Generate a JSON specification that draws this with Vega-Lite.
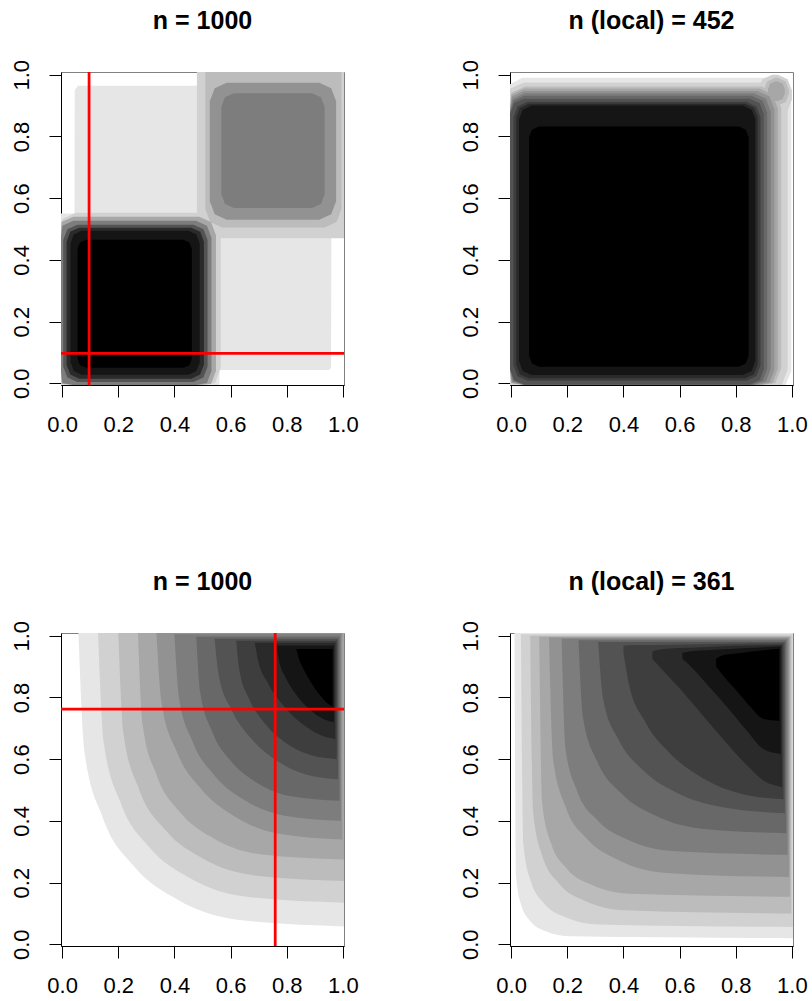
{
  "$schema": "https://vega.github.io/schema/vega-lite/v6.json",
  "background": "white",
  "padding": {"left": 9, "top": 8, "right": 0, "bottom": 0},
  "autosize": {"type": "pad"},
  "bounds": "flush",
  "columns": 2,
  "spacing": {"row": 248, "column": 166},
  "datasets": {
    "p1": [
      {"g":"01","lv":"L01","x":-0.02,"y":-0.02,"y2":0.55},
      {"g":"01","lv":"L01","x":0.044,"y":-0.02,"y2":0.55},
      {"g":"01","lv":"L01","x":0.045,"y":-0.02,"y2":0.95},
      {"g":"01","lv":"L01","x":0.056,"y":-0.02,"y2":0.964},
      {"g":"01","lv":"L01","x":0.5,"y":-0.02,"y2":0.964},
      {"g":"01","lv":"L01","x":0.501,"y":-0.02,"y2":1.08},
      {"g":"01","lv":"L01","x":0.56,"y":-0.02,"y2":1.08},
      {"g":"01","lv":"L01","x":0.561,"y":0.043,"y2":1.08},
      {"g":"01","lv":"L01","x":0.95,"y":0.043,"y2":1.08},
      {"g":"01","lv":"L01","x":0.958,"y":0.05,"y2":1.08},
      {"g":"01","lv":"L01","x":0.959,"y":0.49,"y2":1.08},
      {"g":"01","lv":"L01","x":1.08,"y":0.49,"y2":1.08},
      {"g":"02a","lv":"L02","x":-0.02,"y":0.05,"y2":0.483},
      {"g":"02a","lv":"L02","x":0.0005,"y":0.0005,"y2":0.5325},
      {"g":"02a","lv":"L02","x":0.05,"y":-0.02,"y2":0.553},
      {"g":"02a","lv":"L02","x":0.495,"y":-0.02,"y2":0.553},
      {"g":"02a","lv":"L02","x":0.5445,"y":0.0005,"y2":0.5325},
      {"g":"02a","lv":"L02","x":0.565,"y":0.05,"y2":0.483},
      {"g":"02b","lv":"L02","x":0.48,"y":0.54,"y2":1.01},
      {"g":"02b","lv":"L02","x":0.5005,"y":0.4905,"y2":1.0595},
      {"g":"02b","lv":"L02","x":0.55,"y":0.47,"y2":1.08},
      {"g":"02b","lv":"L02","x":1.01,"y":0.47,"y2":1.08},
      {"g":"02b","lv":"L02","x":1.0595,"y":0.4905,"y2":1.0595},
      {"g":"02b","lv":"L02","x":1.08,"y":0.54,"y2":1.01},
      {"g":"03b","lv":"L03","x":0.51,"y":0.565,"y2":1.02},
      {"g":"03b","lv":"L03","x":0.5276,"y":0.5226,"y2":1.0624},
      {"g":"03b","lv":"L03","x":0.57,"y":0.505,"y2":1.08},
      {"g":"03b","lv":"L03","x":0.935,"y":0.505,"y2":1.08},
      {"g":"03b","lv":"L03","x":0.9774,"y":0.5226,"y2":1.0624},
      {"g":"03b","lv":"L03","x":0.995,"y":0.565,"y2":1.02},
      {"g":"04a","lv":"L04","x":-0.02,"y":0.04,"y2":0.48},
      {"g":"04a","lv":"L04","x":-0.0024,"y":-0.0024,"y2":0.5224},
      {"g":"04a","lv":"L04","x":0.04,"y":-0.02,"y2":0.54},
      {"g":"04a","lv":"L04","x":0.488,"y":-0.02,"y2":0.54},
      {"g":"04a","lv":"L04","x":0.5304,"y":-0.0024,"y2":0.5224},
      {"g":"04a","lv":"L04","x":0.548,"y":0.04,"y2":0.48},
      {"g":"05b","lv":"L05","x":0.526,"y":0.59,"y2":0.914},
      {"g":"05b","lv":"L05","x":0.5436,"y":0.5476,"y2":0.9564},
      {"g":"05b","lv":"L05","x":0.586,"y":0.53,"y2":0.974},
      {"g":"05b","lv":"L05","x":0.916,"y":0.53,"y2":0.974},
      {"g":"05b","lv":"L05","x":0.9584,"y":0.5476,"y2":0.9564},
      {"g":"05b","lv":"L05","x":0.976,"y":0.59,"y2":0.914},
      {"g":"06a","lv":"L06","x":-0.015,"y":0.04,"y2":0.472},
      {"g":"06a","lv":"L06","x":0.0011,"y":0.0011,"y2":0.5109},
      {"g":"06a","lv":"L06","x":0.04,"y":-0.015,"y2":0.527},
      {"g":"06a","lv":"L06","x":0.477,"y":-0.015,"y2":0.527},
      {"g":"06a","lv":"L06","x":0.5159,"y":0.0011,"y2":0.5109},
      {"g":"06a","lv":"L06","x":0.532,"y":0.04,"y2":0.472},
      {"g":"06b","lv":"L06","x":0.567,"y":0.613,"y2":0.895},
      {"g":"06b","lv":"L06","x":0.5802,"y":0.5812,"y2":0.9268},
      {"g":"06b","lv":"L06","x":0.612,"y":0.568,"y2":0.94},
      {"g":"06b","lv":"L06","x":0.89,"y":0.568,"y2":0.94},
      {"g":"06b","lv":"L06","x":0.9218,"y":0.5812,"y2":0.9268},
      {"g":"06b","lv":"L06","x":0.935,"y":0.613,"y2":0.895},
      {"g":"08a","lv":"L08","x":0.004,"y":0.054,"y2":0.464},
      {"g":"08a","lv":"L08","x":0.0187,"y":0.0187,"y2":0.4993},
      {"g":"08a","lv":"L08","x":0.054,"y":0.004,"y2":0.514},
      {"g":"08a","lv":"L08","x":0.468,"y":0.004,"y2":0.514},
      {"g":"08a","lv":"L08","x":0.5033,"y":0.0187,"y2":0.4993},
      {"g":"08a","lv":"L08","x":0.518,"y":0.054,"y2":0.464},
      {"g":"10a","lv":"L10","x":0.016,"y":0.06,"y2":0.459},
      {"g":"10a","lv":"L10","x":0.0292,"y":0.0282,"y2":0.4908},
      {"g":"10a","lv":"L10","x":0.061,"y":0.015,"y2":0.504},
      {"g":"10a","lv":"L10","x":0.46,"y":0.015,"y2":0.504},
      {"g":"10a","lv":"L10","x":0.4918,"y":0.0282,"y2":0.4908},
      {"g":"10a","lv":"L10","x":0.505,"y":0.06,"y2":0.459},
      {"g":"11a","lv":"L11","x":0.03,"y":0.068,"y2":0.454},
      {"g":"11a","lv":"L11","x":0.0417,"y":0.0397,"y2":0.4823},
      {"g":"11a","lv":"L11","x":0.07,"y":0.028,"y2":0.494},
      {"g":"11a","lv":"L11","x":0.45,"y":0.028,"y2":0.494},
      {"g":"11a","lv":"L11","x":0.4783,"y":0.0397,"y2":0.4823},
      {"g":"11a","lv":"L11","x":0.49,"y":0.068,"y2":0.454},
      {"g":"12a","lv":"L12","x":0.055,"y":0.08,"y2":0.435},
      {"g":"12a","lv":"L12","x":0.0638,"y":0.0588,"y2":0.4562},
      {"g":"12a","lv":"L12","x":0.085,"y":0.05,"y2":0.465},
      {"g":"12a","lv":"L12","x":0.432,"y":0.05,"y2":0.465},
      {"g":"12a","lv":"L12","x":0.4532,"y":0.0588,"y2":0.4562},
      {"g":"12a","lv":"L12","x":0.462,"y":0.08,"y2":0.435}
    ],
    "p2": [
      {"g":"m01","lv":"L01","x":-0.03,"y":0.04,"y2":0.92},
      {"g":"m01","lv":"L01","x":-0.0095,"y":-0.0095,"y2":0.9695},
      {"g":"m01","lv":"L01","x":0.04,"y":-0.03,"y2":0.99},
      {"g":"m01","lv":"L01","x":0.928,"y":-0.03,"y2":0.99},
      {"g":"m01","lv":"L01","x":0.9775,"y":-0.0095,"y2":0.9695},
      {"g":"m01","lv":"L01","x":0.998,"y":0.04,"y2":0.92},
      {"g":"m02","lv":"L02","x":-0.025,"y":0.045,"y2":0.905},
      {"g":"m02","lv":"L02","x":-0.0045,"y":-0.0045,"y2":0.9545},
      {"g":"m02","lv":"L02","x":0.045,"y":-0.025,"y2":0.975},
      {"g":"m02","lv":"L02","x":0.915,"y":-0.025,"y2":0.975},
      {"g":"m02","lv":"L02","x":0.9645,"y":-0.0045,"y2":0.9545},
      {"g":"m02","lv":"L02","x":0.985,"y":0.045,"y2":0.905},
      {"g":"n02","lv":"L02","x":0.88,"y":0.92,"y2":0.95},
      {"g":"n02","lv":"L02","x":0.8947,"y":0.8847,"y2":0.9853},
      {"g":"n02","lv":"L02","x":0.93,"y":0.87,"y2":1.0},
      {"g":"n02","lv":"L02","x":0.95,"y":0.87,"y2":1.0},
      {"g":"n02","lv":"L02","x":0.9853,"y":0.8847,"y2":0.9853},
      {"g":"n02","lv":"L02","x":1.0,"y":0.92,"y2":0.95},
      {"g":"m03","lv":"L03","x":-0.02,"y":0.05,"y2":0.892},
      {"g":"m03","lv":"L03","x":0.0005,"y":0.0005,"y2":0.9415},
      {"g":"m03","lv":"L03","x":0.05,"y":-0.02,"y2":0.962},
      {"g":"m03","lv":"L03","x":0.892,"y":-0.02,"y2":0.962},
      {"g":"m03","lv":"L03","x":0.9415,"y":0.0005,"y2":0.9415},
      {"g":"m03","lv":"L03","x":0.962,"y":0.05,"y2":0.892},
      {"g":"n03","lv":"L03","x":0.9,"y":0.94,"y2":0.95},
      {"g":"n03","lv":"L03","x":0.9117,"y":0.9117,"y2":0.9783},
      {"g":"n03","lv":"L03","x":0.94,"y":0.9,"y2":0.99},
      {"g":"n03","lv":"L03","x":0.95,"y":0.9,"y2":0.99},
      {"g":"n03","lv":"L03","x":0.9783,"y":0.9117,"y2":0.9783},
      {"g":"n03","lv":"L03","x":0.99,"y":0.94,"y2":0.95},
      {"g":"m04","lv":"L04","x":-0.018,"y":0.047,"y2":0.89},
      {"g":"m04","lv":"L04","x":0.001,"y":0.001,"y2":0.936},
      {"g":"m04","lv":"L04","x":0.047,"y":-0.018,"y2":0.955},
      {"g":"m04","lv":"L04","x":0.885,"y":-0.018,"y2":0.955},
      {"g":"m04","lv":"L04","x":0.931,"y":0.001,"y2":0.936},
      {"g":"m04","lv":"L04","x":0.95,"y":0.047,"y2":0.89},
      {"g":"n04","lv":"L04","x":0.915,"y":0.94,"y2":0.953},
      {"g":"n04","lv":"L04","x":0.9223,"y":0.9223,"y2":0.9707},
      {"g":"n04","lv":"L04","x":0.94,"y":0.915,"y2":0.978},
      {"g":"n04","lv":"L04","x":0.95,"y":0.915,"y2":0.978},
      {"g":"n04","lv":"L04","x":0.9677,"y":0.9223,"y2":0.9707},
      {"g":"n04","lv":"L04","x":0.975,"y":0.94,"y2":0.953},
      {"g":"m05","lv":"L05","x":-0.015,"y":0.045,"y2":0.887},
      {"g":"m05","lv":"L05","x":0.0026,"y":0.0026,"y2":0.9294},
      {"g":"m05","lv":"L05","x":0.045,"y":-0.015,"y2":0.947},
      {"g":"m05","lv":"L05","x":0.878,"y":-0.015,"y2":0.947},
      {"g":"m05","lv":"L05","x":0.9204,"y":0.0026,"y2":0.9294},
      {"g":"m05","lv":"L05","x":0.938,"y":0.045,"y2":0.887},
      {"g":"m06","lv":"L06","x":-0.012,"y":0.048,"y2":0.88},
      {"g":"m06","lv":"L06","x":0.0056,"y":0.0056,"y2":0.9224},
      {"g":"m06","lv":"L06","x":0.048,"y":-0.012,"y2":0.94},
      {"g":"m06","lv":"L06","x":0.865,"y":-0.012,"y2":0.94},
      {"g":"m06","lv":"L06","x":0.9074,"y":0.0056,"y2":0.9224},
      {"g":"m06","lv":"L06","x":0.925,"y":0.048,"y2":0.88},
      {"g":"m07","lv":"L07","x":-0.008,"y":0.047,"y2":0.877},
      {"g":"m07","lv":"L07","x":0.0081,"y":0.0081,"y2":0.9159},
      {"g":"m07","lv":"L07","x":0.047,"y":-0.008,"y2":0.932},
      {"g":"m07","lv":"L07","x":0.857,"y":-0.008,"y2":0.932},
      {"g":"m07","lv":"L07","x":0.8959,"y":0.0081,"y2":0.9159},
      {"g":"m07","lv":"L07","x":0.912,"y":0.047,"y2":0.877},
      {"g":"m08","lv":"L08","x":-0.004,"y":0.046,"y2":0.872},
      {"g":"m08","lv":"L08","x":0.0107,"y":0.0107,"y2":0.9073},
      {"g":"m08","lv":"L08","x":0.046,"y":-0.004,"y2":0.922},
      {"g":"m08","lv":"L08","x":0.85,"y":-0.004,"y2":0.922},
      {"g":"m08","lv":"L08","x":0.8853,"y":0.0107,"y2":0.9073},
      {"g":"m08","lv":"L08","x":0.9,"y":0.046,"y2":0.872},
      {"g":"m09","lv":"L09","x":0.008,"y":0.058,"y2":0.862},
      {"g":"m09","lv":"L09","x":0.0227,"y":0.0227,"y2":0.8973},
      {"g":"m09","lv":"L09","x":0.058,"y":0.008,"y2":0.912},
      {"g":"m09","lv":"L09","x":0.838,"y":0.008,"y2":0.912},
      {"g":"m09","lv":"L09","x":0.8733,"y":0.0227,"y2":0.8973},
      {"g":"m09","lv":"L09","x":0.888,"y":0.058,"y2":0.862},
      {"g":"m10","lv":"L10","x":0.018,"y":0.061,"y2":0.861},
      {"g":"m10","lv":"L10","x":0.0312,"y":0.0292,"y2":0.8928},
      {"g":"m10","lv":"L10","x":0.063,"y":0.016,"y2":0.906},
      {"g":"m10","lv":"L10","x":0.833,"y":0.016,"y2":0.906},
      {"g":"m10","lv":"L10","x":0.8648,"y":0.0292,"y2":0.8928},
      {"g":"m10","lv":"L10","x":0.878,"y":0.061,"y2":0.861},
      {"g":"m11","lv":"L11","x":0.028,"y":0.072,"y2":0.855},
      {"g":"m11","lv":"L11","x":0.0412,"y":0.0402,"y2":0.8868},
      {"g":"m11","lv":"L11","x":0.073,"y":0.027,"y2":0.9},
      {"g":"m11","lv":"L11","x":0.825,"y":0.027,"y2":0.9},
      {"g":"m11","lv":"L11","x":0.8568,"y":0.0402,"y2":0.8868},
      {"g":"m11","lv":"L11","x":0.87,"y":0.072,"y2":0.855},
      {"g":"m12","lv":"L12","x":0.064,"y":0.089,"y2":0.797},
      {"g":"m12","lv":"L12","x":0.0743,"y":0.0643,"y2":0.8217},
      {"g":"m12","lv":"L12","x":0.099,"y":0.054,"y2":0.832},
      {"g":"m12","lv":"L12","x":0.811,"y":0.054,"y2":0.832},
      {"g":"m12","lv":"L12","x":0.8357,"y":0.0643,"y2":0.8217},
      {"g":"m12","lv":"L12","x":0.846,"y":0.089,"y2":0.797}
    ],
    "p3": [
      {"g":"01","lv":"L01","x":0.058,"y":1.01,"y2":1.01},
      {"g":"01","lv":"L01","x":0.0797,"y":0.6233,"y2":1.01},
      {"g":"01","lv":"L01","x":0.145,"y":0.4102,"y2":1.01},
      {"g":"01","lv":"L01","x":0.2544,"y":0.2544,"y2":1.01},
      {"g":"01","lv":"L01","x":0.4102,"y":0.145,"y2":1.01},
      {"g":"01","lv":"L01","x":0.6233,"y":0.0797,"y2":1.01},
      {"g":"01","lv":"L01","x":1.01,"y":0.058,"y2":1.01},
      {"g":"02","lv":"L02","x":0.128,"y":1.01,"y2":1.01},
      {"g":"02","lv":"L02","x":0.1481,"y":0.6546,"y2":1.01},
      {"g":"02","lv":"L02","x":0.2086,"y":0.4587,"y2":1.01},
      {"g":"02","lv":"L02","x":0.31,"y":0.3155,"y2":1.01},
      {"g":"02","lv":"L02","x":0.4543,"y":0.215,"y2":1.01},
      {"g":"02","lv":"L02","x":0.6517,"y":0.1549,"y2":1.01},
      {"g":"02","lv":"L02","x":1.01,"y":0.135,"y2":1.01},
      {"g":"03","lv":"L03","x":0.2,"y":1.01,"y2":1.01},
      {"g":"03","lv":"L03","x":0.2185,"y":0.683,"y2":1.01},
      {"g":"03","lv":"L03","x":0.274,"y":0.5028,"y2":1.01},
      {"g":"03","lv":"L03","x":0.3671,"y":0.3711,"y2":1.01},
      {"g":"03","lv":"L03","x":0.4997,"y":0.2786,"y2":1.01},
      {"g":"03","lv":"L03","x":0.681,"y":0.2234,"y2":1.01},
      {"g":"03","lv":"L03","x":1.01,"y":0.205,"y2":1.01},
      {"g":"04","lv":"L04","x":0.27,"y":1.01,"y2":1.01},
      {"g":"04","lv":"L04","x":0.2868,"y":0.7114,"y2":1.01},
      {"g":"04","lv":"L04","x":0.3372,"y":0.5469,"y2":1.01},
      {"g":"04","lv":"L04","x":0.4216,"y":0.4266,"y2":1.01},
      {"g":"04","lv":"L04","x":0.5419,"y":0.3422,"y2":1.01},
      {"g":"04","lv":"L04","x":0.7064,"y":0.2918,"y2":1.01},
      {"g":"04","lv":"L04","x":1.005,"y":0.275,"y2":1.01},
      {"g":"05","lv":"L05","x":0.336,"y":1.01,"y2":1.01},
      {"g":"05","lv":"L05","x":0.3541,"y":0.7828,"y2":1.01},
      {"g":"05","lv":"L05","x":0.408,"y":0.6252,"y2":1.01},
      {"g":"05","lv":"L05","x":0.4963,"y":0.5022,"y2":1.01},
      {"g":"05","lv":"L05","x":0.6178,"y":0.4128,"y2":1.01},
      {"g":"05","lv":"L05","x":0.7735,"y":0.3584,"y2":1.01},
      {"g":"05","lv":"L05","x":0.998,"y":0.34,"y2":1.01},
      {"g":"06","lv":"L06","x":0.4,"y":1.005,"y2":1.005},
      {"g":"06","lv":"L06","x":0.4162,"y":0.7998,"y2":1.005},
      {"g":"06","lv":"L06","x":0.4645,"y":0.6575,"y2":1.005},
      {"g":"06","lv":"L06","x":0.5436,"y":0.5465,"y2":1.005},
      {"g":"06","lv":"L06","x":0.6524,"y":0.4658,"y2":1.005},
      {"g":"06","lv":"L06","x":0.7919,"y":0.4166,"y2":1.005},
      {"g":"06","lv":"L06","x":0.993,"y":0.4,"y2":1.005},
      {"g":"07","lv":"L07","x":0.478,"y":0.997,"y2":0.997},
      {"g":"07","lv":"L07","x":0.492,"y":0.8166,"y2":0.997},
      {"g":"07","lv":"L07","x":0.5334,"y":0.6915,"y2":0.997},
      {"g":"07","lv":"L07","x":0.6015,"y":0.5938,"y2":0.997},
      {"g":"07","lv":"L07","x":0.6951,"y":0.5228,"y2":0.997},
      {"g":"07","lv":"L07","x":0.8151,"y":0.4796,"y2":0.997},
      {"g":"07","lv":"L07","x":0.988,"y":0.465,"y2":0.997},
      {"g":"08","lv":"L08","x":0.543,"y":0.99,"y2":0.99},
      {"g":"08","lv":"L08","x":0.558,"y":0.8722,"y2":0.99},
      {"g":"08","lv":"L08","x":0.602,"y":0.7625,"y2":0.99},
      {"g":"08","lv":"L08","x":0.6719,"y":0.6683,"y2":0.99},
      {"g":"08","lv":"L08","x":0.763,"y":0.596,"y2":0.99},
      {"g":"08","lv":"L08","x":0.8691,"y":0.5505,"y2":0.99},
      {"g":"08","lv":"L08","x":0.983,"y":0.535,"y2":0.99},
      {"g":"09","lv":"L09","x":0.62,"y":0.984,"y2":0.984},
      {"g":"09","lv":"L09","x":0.6322,"y":0.8846,"y2":0.984},
      {"g":"09","lv":"L09","x":0.668,"y":0.792,"y2":0.984},
      {"g":"09","lv":"L09","x":0.7249,"y":0.7125,"y2":0.984},
      {"g":"09","lv":"L09","x":0.799,"y":0.6515,"y2":0.984},
      {"g":"09","lv":"L09","x":0.8853,"y":0.6131,"y2":0.984},
      {"g":"09","lv":"L09","x":0.978,"y":0.6,"y2":0.984},
      {"g":"10","lv":"L10","x":0.686,"y":0.977,"y2":0.977},
      {"g":"10","lv":"L10","x":0.6982,"y":0.9194,"y2":0.977},
      {"g":"10","lv":"L10","x":0.7332,"y":0.8458,"y2":0.977},
      {"g":"10","lv":"L10","x":0.7869,"y":0.7747,"y2":0.977},
      {"g":"10","lv":"L10","x":0.8523,"y":0.7164,"y2":0.977},
      {"g":"10","lv":"L10","x":0.92,"y":0.6782,"y2":0.977},
      {"g":"10","lv":"L10","x":0.973,"y":0.665,"y2":0.977},
      {"g":"11","lv":"L11","x":0.763,"y":0.968,"y2":0.968},
      {"g":"11","lv":"L11","x":0.7717,"y":0.9222,"y2":0.968},
      {"g":"11","lv":"L11","x":0.7967,"y":0.8637,"y2":0.968},
      {"g":"11","lv":"L11","x":0.8351,"y":0.8072,"y2":0.968},
      {"g":"11","lv":"L11","x":0.8818,"y":0.7608,"y2":0.968},
      {"g":"11","lv":"L11","x":0.9302,"y":0.7305,"y2":0.968},
      {"g":"11","lv":"L11","x":0.968,"y":0.72,"y2":0.968},
      {"g":"12","lv":"L12","x":0.834,"y":0.957,"y2":0.957},
      {"g":"12","lv":"L12","x":0.8407,"y":0.9336,"y2":0.957},
      {"g":"12","lv":"L12","x":0.8596,"y":0.8926,"y2":0.957},
      {"g":"12","lv":"L12","x":0.8873,"y":0.8473,"y2":0.957},
      {"g":"12","lv":"L12","x":0.9186,"y":0.8071,"y2":0.957},
      {"g":"12","lv":"L12","x":0.9469,"y":0.7797,"y2":0.957},
      {"g":"12","lv":"L12","x":0.963,"y":0.77,"y2":0.957}
    ],
    "p4": [
      {"g":"01","lv":"L01","x":0.012,"y":1.01,"y2":1.01},
      {"g":"01","lv":"L01","x":0.0177,"y":0.2197,"y2":1.01},
      {"g":"01","lv":"L01","x":0.0356,"y":0.128,"y2":1.01},
      {"g":"01","lv":"L01","x":0.068,"y":0.0756,"y2":1.01},
      {"g":"01","lv":"L01","x":0.1209,"y":0.0435,"y2":1.01},
      {"g":"01","lv":"L01","x":0.2133,"y":0.0257,"y2":1.01},
      {"g":"01","lv":"L01","x":1.01,"y":0.02,"y2":1.01},
      {"g":"02","lv":"L02","x":0.035,"y":1.005,"y2":1.005},
      {"g":"02","lv":"L02","x":0.0434,"y":0.3281,"y2":1.005},
      {"g":"02","lv":"L02","x":0.0692,"y":0.207,"y2":1.005},
      {"g":"02","lv":"L02","x":0.1153,"y":0.1348,"y2":1.005},
      {"g":"02","lv":"L02","x":0.189,"y":0.0895,"y2":1.005},
      {"g":"02","lv":"L02","x":0.3126,"y":0.0642,"y2":1.005},
      {"g":"02","lv":"L02","x":1.003,"y":0.056,"y2":1.005},
      {"g":"03","lv":"L03","x":0.068,"y":1.0,"y2":1.0},
      {"g":"03","lv":"L03","x":0.0787,"y":0.4264,"y2":1.0},
      {"g":"03","lv":"L03","x":0.1115,"y":0.2857,"y2":1.0},
      {"g":"03","lv":"L03","x":0.1695,"y":0.1982,"y2":1.0},
      {"g":"03","lv":"L03","x":0.2599,"y":0.1421,"y2":1.0},
      {"g":"03","lv":"L03","x":0.4053,"y":0.1103,"y2":1.0},
      {"g":"03","lv":"L03","x":0.998,"y":0.1,"y2":1.0},
      {"g":"04","lv":"L04","x":0.1,"y":0.997,"y2":0.997},
      {"g":"04","lv":"L04","x":0.1103,"y":0.4598,"y2":0.997},
      {"g":"04","lv":"L04","x":0.1419,"y":0.3279,"y2":0.997},
      {"g":"04","lv":"L04","x":0.1975,"y":0.246,"y2":0.997},
      {"g":"04","lv":"L04","x":0.2844,"y":0.1935,"y2":0.997},
      {"g":"04","lv":"L04","x":0.4243,"y":0.1637,"y2":0.997},
      {"g":"04","lv":"L04","x":0.994,"y":0.154,"y2":0.997},
      {"g":"05","lv":"L05","x":0.135,"y":0.994,"y2":0.994},
      {"g":"05","lv":"L05","x":0.1497,"y":0.5992,"y2":0.994},
      {"g":"05","lv":"L05","x":0.1943,"y":0.4453,"y2":0.994},
      {"g":"05","lv":"L05","x":0.271,"y":0.3415,"y2":0.994},
      {"g":"05","lv":"L05","x":0.3854,"y":0.2719,"y2":0.994},
      {"g":"05","lv":"L05","x":0.555,"y":0.2313,"y2":0.994},
      {"g":"05","lv":"L05","x":0.99,"y":0.218,"y2":0.994},
      {"g":"06","lv":"L06","x":0.18,"y":0.99,"y2":0.99},
      {"g":"06","lv":"L06","x":0.1938,"y":0.6339,"y2":0.99},
      {"g":"06","lv":"L06","x":0.2359,"y":0.495,"y2":0.99},
      {"g":"06","lv":"L06","x":0.3081,"y":0.4014,"y2":0.99},
      {"g":"06","lv":"L06","x":0.4158,"y":0.3386,"y2":0.99},
      {"g":"06","lv":"L06","x":0.5755,"y":0.302,"y2":0.99},
      {"g":"06","lv":"L06","x":0.985,"y":0.29,"y2":0.99},
      {"g":"07","lv":"L07","x":0.24,"y":0.985,"y2":0.985},
      {"g":"07","lv":"L07","x":0.2569,"y":0.7311,"y2":0.985},
      {"g":"07","lv":"L07","x":0.3076,"y":0.5912,"y2":0.985},
      {"g":"07","lv":"L07","x":0.3927,"y":0.4889,"y2":0.985},
      {"g":"07","lv":"L07","x":0.5138,"y":0.4171,"y2":0.985},
      {"g":"07","lv":"L07","x":0.6794,"y":0.3742,"y2":0.985},
      {"g":"07","lv":"L07","x":0.98,"y":0.36,"y2":0.985},
      {"g":"08","lv":"L08","x":0.31,"y":0.98,"y2":0.98},
      {"g":"08","lv":"L08","x":0.3282,"y":0.7935,"y2":0.98},
      {"g":"08","lv":"L08","x":0.3823,"y":0.6641,"y2":0.98},
      {"g":"08","lv":"L08","x":0.471,"y":0.5632,"y2":0.98},
      {"g":"08","lv":"L08","x":0.5931,"y":0.4898,"y2":0.98},
      {"g":"08","lv":"L08","x":0.7495,"y":0.4451,"y2":0.98},
      {"g":"08","lv":"L08","x":0.975,"y":0.425,"y2":0.98},
      {"g":"09","lv":"L09","x":0.4,"y":0.945,"y2":0.968},
      {"g":"09","lv":"L09","x":0.4194,"y":0.8443,"y2":0.969},
      {"g":"09","lv":"L09","x":0.4764,"y":0.7225,"y2":0.97},
      {"g":"09","lv":"L09","x":0.567,"y":0.6179,"y2":0.971},
      {"g":"09","lv":"L09","x":0.685,"y":0.5377,"y2":0.972},
      {"g":"09","lv":"L09","x":0.8225,"y":0.4872,"y2":0.974},
      {"g":"09","lv":"L09","x":0.97,"y":0.47,"y2":0.975},
      {"g":"10","lv":"L10","x":0.503,"y":0.925,"y2":0.95},
      {"g":"10","lv":"L10","x":0.53,"y":0.898,"y2":0.955},
      {"g":"10","lv":"L10","x":0.6,"y":0.83,"y2":0.96},
      {"g":"10","lv":"L10","x":0.68,"y":0.745,"y2":0.963},
      {"g":"10","lv":"L10","x":0.76,"y":0.66,"y2":0.966},
      {"g":"10","lv":"L10","x":0.84,"y":0.58,"y2":0.968},
      {"g":"10","lv":"L10","x":0.9,"y":0.53,"y2":0.969},
      {"g":"10","lv":"L10","x":0.965,"y":0.51,"y2":0.97},
      {"g":"11","lv":"L11","x":0.61,"y":0.925,"y2":0.945},
      {"g":"11","lv":"L11","x":0.64,"y":0.9,"y2":0.95},
      {"g":"11","lv":"L11","x":0.7,"y":0.84,"y2":0.953},
      {"g":"11","lv":"L11","x":0.78,"y":0.758,"y2":0.957},
      {"g":"11","lv":"L11","x":0.84,"y":0.692,"y2":0.96},
      {"g":"11","lv":"L11","x":0.9,"y":0.632,"y2":0.963},
      {"g":"11","lv":"L11","x":0.96,"y":0.617,"y2":0.965},
      {"g":"12","lv":"L12","x":0.73,"y":0.9,"y2":0.925},
      {"g":"12","lv":"L12","x":0.75,"y":0.877,"y2":0.935},
      {"g":"12","lv":"L12","x":0.8,"y":0.825,"y2":0.942},
      {"g":"12","lv":"L12","x":0.85,"y":0.772,"y2":0.948},
      {"g":"12","lv":"L12","x":0.9,"y":0.73,"y2":0.953},
      {"g":"12","lv":"L12","x":0.955,"y":0.724,"y2":0.958}
    ],
    "v1": [{"x": 0.096}],
    "h1": [{"y": 0.097}],
    "v3": [{"x": 0.759}],
    "h3": [{"y": 0.762}]
  },
  "concat": [
    {
      "title": "n = 1000",
      "width": 283, "height": 313,
      "layer": [
        {
          "data": {"name": "p1"},
          "mark": {"type": "area", "interpolate": "linear", "opacity": 1},
          "encoding": {
            "x": {"field": "x", "type": "quantitative", "scale": {"domain": [-0.004, 1.004], "nice": false, "zero": false, "clamp": true}, "axis": {"values": [0, 0.2, 0.4, 0.6, 0.8, 1], "format": ".1f", "title": null}},
            "y": {"field": "y", "type": "quantitative", "stack": null, "scale": {"domain": [-0.0055, 1.0088], "nice": false, "zero": false, "clamp": true}, "axis": {"values": [0, 0.2, 0.4, 0.6, 0.8, 1], "format": ".1f", "title": null}},
            "y2": {"field": "y2"},
            "color": {"field": "lv", "type": "ordinal", "legend": null, "scale": {"domain": ["L01","L02","L03","L04","L05","L06","L07","L08","L09","L10","L11","L12"], "range": ["#e6e6e6","#d1d1d1","#bcbcbc","#a7a7a7","#929292","#7d7d7d","#686868","#535353","#3e3e3e","#2a2a2a","#151515","#000000"]}},
            "detail": {"field": "g", "type": "nominal"}
          }
        },
        {"data": {"name": "v1"}, "mark": {"type": "rule", "color": "#ff0000", "strokeWidth": 2.75}, "encoding": {"x": {"field": "x", "type": "quantitative"}}},
        {"data": {"name": "h1"}, "mark": {"type": "rule", "color": "#ff0000", "strokeWidth": 2.75}, "encoding": {"y": {"field": "y", "type": "quantitative"}}}
      ]
    },
    {
      "title": "n (local) = 452",
      "width": 283, "height": 313,
      "layer": [
        {
          "data": {"name": "p2"},
          "mark": {"type": "area", "interpolate": "linear", "opacity": 1},
          "encoding": {
            "x": {"field": "x", "type": "quantitative", "scale": {"domain": [-0.004, 1.004], "nice": false, "zero": false, "clamp": true}, "axis": {"values": [0, 0.2, 0.4, 0.6, 0.8, 1], "format": ".1f", "title": null}},
            "y": {"field": "y", "type": "quantitative", "stack": null, "scale": {"domain": [-0.0055, 1.0088], "nice": false, "zero": false, "clamp": true}, "axis": {"values": [0, 0.2, 0.4, 0.6, 0.8, 1], "format": ".1f", "title": null}},
            "y2": {"field": "y2"},
            "color": {"field": "lv", "type": "ordinal", "legend": null, "scale": {"domain": ["L01","L02","L03","L04","L05","L06","L07","L08","L09","L10","L11","L12"], "range": ["#e6e6e6","#d1d1d1","#bcbcbc","#a7a7a7","#929292","#7d7d7d","#686868","#535353","#3e3e3e","#2a2a2a","#151515","#000000"]}},
            "detail": {"field": "g", "type": "nominal"}
          }
        }
      ]
    },
    {
      "title": "n = 1000",
      "width": 283, "height": 313,
      "layer": [
        {
          "data": {"name": "p3"},
          "mark": {"type": "area", "interpolate": "monotone", "opacity": 1},
          "encoding": {
            "x": {"field": "x", "type": "quantitative", "scale": {"domain": [-0.004, 1.004], "nice": false, "zero": false, "clamp": true}, "axis": {"values": [0, 0.2, 0.4, 0.6, 0.8, 1], "format": ".1f", "title": null}},
            "y": {"field": "y", "type": "quantitative", "stack": null, "scale": {"domain": [-0.0055, 1.0088], "nice": false, "zero": false, "clamp": true}, "axis": {"values": [0, 0.2, 0.4, 0.6, 0.8, 1], "format": ".1f", "title": null}},
            "y2": {"field": "y2"},
            "color": {"field": "lv", "type": "ordinal", "legend": null, "scale": {"domain": ["L01","L02","L03","L04","L05","L06","L07","L08","L09","L10","L11","L12"], "range": ["#e6e6e6","#d1d1d1","#bcbcbc","#a7a7a7","#929292","#7d7d7d","#686868","#535353","#3e3e3e","#2a2a2a","#151515","#000000"]}},
            "detail": {"field": "g", "type": "nominal"}
          }
        },
        {"data": {"name": "v3"}, "mark": {"type": "rule", "color": "#ff0000", "strokeWidth": 2.75}, "encoding": {"x": {"field": "x", "type": "quantitative"}}},
        {"data": {"name": "h3"}, "mark": {"type": "rule", "color": "#ff0000", "strokeWidth": 2.75}, "encoding": {"y": {"field": "y", "type": "quantitative"}}}
      ]
    },
    {
      "title": "n (local) = 361",
      "width": 283, "height": 313,
      "layer": [
        {
          "data": {"name": "p4"},
          "mark": {"type": "area", "interpolate": "monotone", "opacity": 1},
          "encoding": {
            "x": {"field": "x", "type": "quantitative", "scale": {"domain": [-0.004, 1.004], "nice": false, "zero": false, "clamp": true}, "axis": {"values": [0, 0.2, 0.4, 0.6, 0.8, 1], "format": ".1f", "title": null}},
            "y": {"field": "y", "type": "quantitative", "stack": null, "scale": {"domain": [-0.0055, 1.0088], "nice": false, "zero": false, "clamp": true}, "axis": {"values": [0, 0.2, 0.4, 0.6, 0.8, 1], "format": ".1f", "title": null}},
            "y2": {"field": "y2"},
            "color": {"field": "lv", "type": "ordinal", "legend": null, "scale": {"domain": ["L01","L02","L03","L04","L05","L06","L07","L08","L09","L10","L11","L12"], "range": ["#e6e6e6","#d1d1d1","#bcbcbc","#a7a7a7","#929292","#7d7d7d","#686868","#535353","#3e3e3e","#2a2a2a","#151515","#000000"]}},
            "detail": {"field": "g", "type": "nominal"}
          }
        }
      ]
    }
  ],
  "config": {
    "font": "Liberation Sans",
    "view": {"stroke": "#808080", "strokeWidth": 1},
    "axis": {"labelFont": "Liberation Sans", "labelFontSize": 22, "labelColor": "#000000", "domainColor": "#000000", "domainWidth": 1, "tickColor": "#000000", "tickWidth": 1, "tickSize": 12, "grid": false, "labelFlush": false, "labelOverlap": false, "title": null},
    "axisX": {"labelPadding": 17, "labelAngle": 0},
    "axisY": {"labelAngle": 270, "labelAlign": "center", "labelBaseline": "bottom", "labelPadding": 16},
    "title": {"font": "Liberation Sans", "fontSize": 25, "fontWeight": "bold", "color": "#000000", "anchor": "middle", "frame": "group", "baseline": "alphabetic", "offset": 25}
  }
}
